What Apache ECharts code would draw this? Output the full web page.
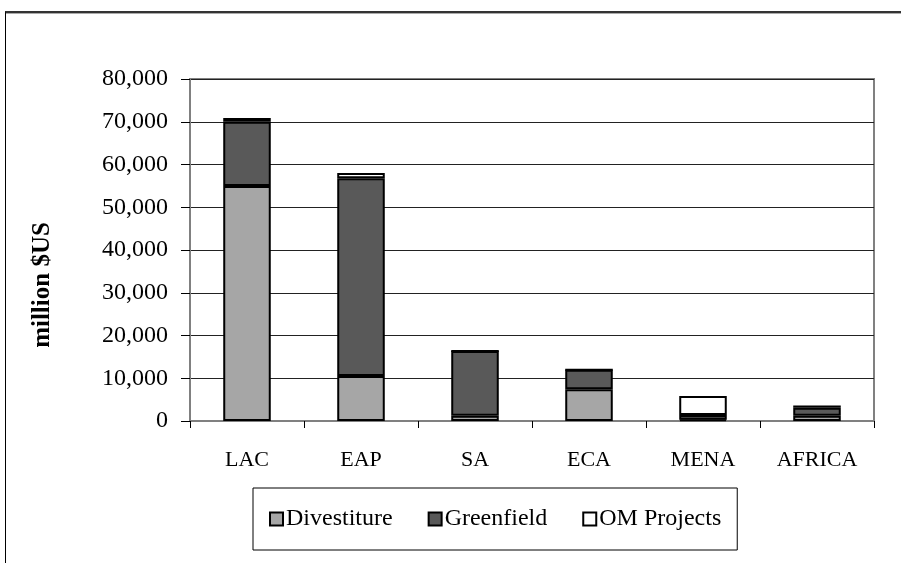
<!DOCTYPE html>
<html>
<head>
<meta charset="utf-8">
<script src="https://cdn.jsdelivr.net/npm/echarts@6/dist/echarts.min.js"></script>
<style>
html,body{margin:0;padding:0;background:#fff;}
#frame{position:absolute;left:5px;top:11px;width:1000px;height:1000px;border-left:1px solid #000;border-top:2px solid #333;box-shadow:inset 0 1px 0 #aaa;}
#chart{position:absolute;left:0;top:0;width:901px;height:563px;}
</style>
</head>
<body>
<div id="frame"></div>
<div id="chart"></div>
<script>
var categories = ['LAC', 'EAP', 'SA', 'ECA', 'MENA', 'AFRICA'];
var divestiture = [55000, 10500, 1200, 7400, 300, 1200];
var greenfield = [15000, 46300, 15200, 4600, 1100, 1900];
var omProjects = [900, 1200, 0, 0, 4450, 500];
var yTicks = [0, 10000, 20000, 30000, 40000, 50000, 60000, 70000, 80000];

var chart = echarts.init(document.getElementById('chart'));
var font = '"Liberation Serif", "Times New Roman", serif';
function bar(name, data, color) {
  return {
    name: name, type: 'bar', stack: 'total', data: data, barWidth: '41.7%',
    itemStyle: { color: color, borderColor: '#000', borderWidth: 2 },
    emphasis: { disabled: true }
  };
}
chart.setOption({
  animation: false,
  textStyle: { fontFamily: font },
  grid: { left: 190, right: 27, top: 79, bottom: 142, show: true, borderColor: '#808080', borderWidth: 2 },
  graphic: [{
    type: 'text', x: 43, y: 285, rotation: Math.PI / 2,
    style: { text: 'million $US', font: 'bold 25px ' + font, fill: '#000', align: 'center', verticalAlign: 'middle' }
  }],
  legend: {
    left: 253, top: 488, orient: 'horizontal',
    padding: [19, 16, 19, 16], itemGap: 35,
    borderColor: '#000', borderWidth: 1,
    itemWidth: 13, itemHeight: 13, icon: 'rect',
    itemStyle: { borderWidth: 2, borderColor: '#000' },
    textStyle: { fontFamily: font, fontSize: 24, color: '#000', padding: [0, 0, 0, -2] },
    data: ['Divestiture', 'Greenfield', 'OM Projects']
  },
  xAxis: {
    type: 'category', data: categories,
    axisLine: { lineStyle: { color: '#808080', width: 2 } },
    axisTick: { show: true, length: 7, lineStyle: { color: '#000', width: 1 } },
    axisLabel: { fontFamily: font, fontSize: 22, color: '#000', margin: 28 }
  },
  yAxis: {
    type: 'value', min: yTicks[0], max: yTicks[yTicks.length - 1], interval: 10000,
    axisLine: { show: true, lineStyle: { color: '#808080', width: 2 } },
    axisTick: { show: true, length: 9, lineStyle: { color: '#000', width: 1 } },
    splitLine: { lineStyle: { color: '#222', width: 1 } },
    axisLabel: {
      fontFamily: font, fontSize: 24, color: '#000', margin: 22,
      formatter: function (v) { return v.toLocaleString('en-US'); }
    }
  },
  series: [
    bar('Divestiture', divestiture, '#A6A6A6'),
    bar('Greenfield', greenfield, '#595959'),
    bar('OM Projects', omProjects, '#FFFFFF')
  ]
});
</script>
</body>
</html>
